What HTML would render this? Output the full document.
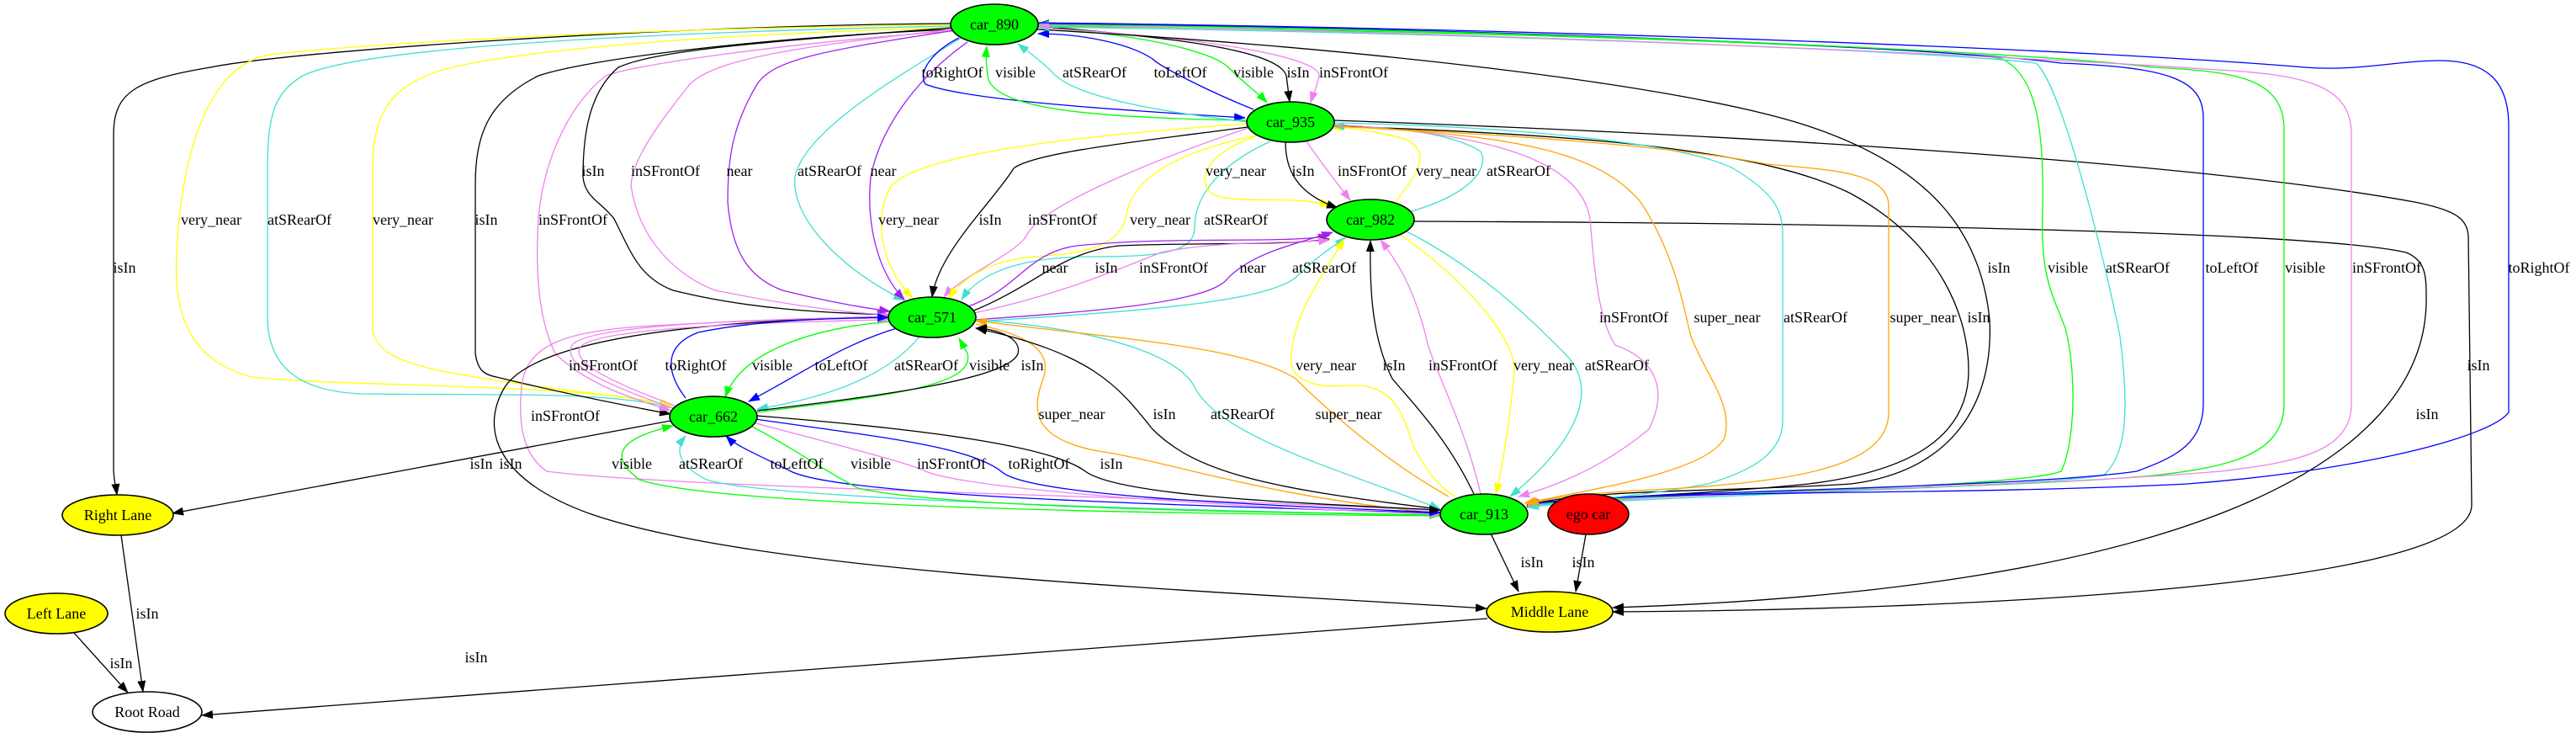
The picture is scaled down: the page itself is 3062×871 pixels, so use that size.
<!DOCTYPE html>
<html><head><meta charset="utf-8"><style>
html,body{margin:0;padding:0;background:#fff;width:3062px;height:871px;overflow:hidden}
svg{display:block}
path{fill:none;stroke-width:1.3}
.k{stroke:#000;marker-end:url(#mk)}
.y{stroke:#ffff00;marker-end:url(#my)}
.c{stroke:#40e0d0;marker-end:url(#mc)}
.v{stroke:#ee82ee;marker-end:url(#mv)}
.p{stroke:#a020f0;marker-end:url(#mp)}
.b{stroke:#0000ff;marker-end:url(#mb)}
.g{stroke:#00ff00;marker-end:url(#mg)}
.o{stroke:#ffa500;marker-end:url(#mo)}
text{font-family:"Liberation Serif",serif;font-size:18px;fill:#000;text-anchor:middle}
ellipse{stroke:#000;stroke-width:1.6}
</style></head><body>
<svg width="3062" height="871" viewBox="0 0 3062 871" xmlns="http://www.w3.org/2000/svg">
<defs>
<marker id="mk" markerUnits="userSpaceOnUse" markerWidth="14" markerHeight="10" refX="13" refY="5" orient="auto"><path d="M0,0 L14,5 L0,10 z" style="fill:#000;stroke:none"/></marker>
<marker id="my" markerUnits="userSpaceOnUse" markerWidth="14" markerHeight="10" refX="13" refY="5" orient="auto"><path d="M0,0 L14,5 L0,10 z" style="fill:#ffff00;stroke:none"/></marker>
<marker id="mc" markerUnits="userSpaceOnUse" markerWidth="14" markerHeight="10" refX="13" refY="5" orient="auto"><path d="M0,0 L14,5 L0,10 z" style="fill:#40e0d0;stroke:none"/></marker>
<marker id="mv" markerUnits="userSpaceOnUse" markerWidth="14" markerHeight="10" refX="13" refY="5" orient="auto"><path d="M0,0 L14,5 L0,10 z" style="fill:#ee82ee;stroke:none"/></marker>
<marker id="mp" markerUnits="userSpaceOnUse" markerWidth="14" markerHeight="10" refX="13" refY="5" orient="auto"><path d="M0,0 L14,5 L0,10 z" style="fill:#a020f0;stroke:none"/></marker>
<marker id="mb" markerUnits="userSpaceOnUse" markerWidth="14" markerHeight="10" refX="13" refY="5" orient="auto"><path d="M0,0 L14,5 L0,10 z" style="fill:#0000ff;stroke:none"/></marker>
<marker id="mg" markerUnits="userSpaceOnUse" markerWidth="14" markerHeight="10" refX="13" refY="5" orient="auto"><path d="M0,0 L14,5 L0,10 z" style="fill:#00ff00;stroke:none"/></marker>
<marker id="mo" markerUnits="userSpaceOnUse" markerWidth="14" markerHeight="10" refX="13" refY="5" orient="auto"><path d="M0,0 L14,5 L0,10 z" style="fill:#ffa500;stroke:none"/></marker>
</defs>

<path class="k" d="M1130,28 C800,30 350,60 250,80 C160,95 135,110 135,160 L135,560 C136,575 138,580 139,588"/>
<path class="y" d="M1130,30 C800,32 450,50 320,65 C240,80 215,200 210,300 C205,380 230,430 300,448 C400,460 700,455 798,482"/>
<path class="c" d="M1130,31 C700,40 420,60 360,90 C325,110 318,140 318,200 L318,380 C320,440 360,465 430,468 C600,470 720,465 797,484"/>
<path class="y" d="M1130,33 C850,40 600,60 520,85 C460,105 443,140 443,200 L443,390 C445,420 480,430 520,440 C650,465 760,470 798,483"/>
<path class="k" d="M1132,35 C900,45 700,70 640,90 C580,120 565,160 565,220 L565,420 C568,440 575,445 590,448 C680,470 760,485 797,492"/>
<path class="v" d="M1132,37 C950,50 760,75 720,90 C670,130 645,200 640,260 C636,320 640,380 660,420 C700,460 760,475 797,488"/>
<path class="v" d="M1712,607 C1400,590 800,580 650,560 C620,540 616,500 620,460 C625,410 670,395 760,388 C900,380 1000,378 1056,378"/>
<path class="k" d="M1056,377 C850,380 640,400 600,460 C570,510 590,570 700,610 C900,680 1400,700 1767,723"/>

<path class="k" d="M1131,33 C900,50 780,60 735,80 C700,110 693,160 693,210 C695,235 715,240 730,260 C750,300 760,330 800,345 C900,370 1000,372 1056,374"/>
<path class="v" d="M1132,35 C950,55 850,70 820,100 C780,150 752,190 750,220 C760,290 810,330 850,345 C950,365 1010,372 1057,374"/>
<path class="p" d="M1135,36 C980,60 920,70 900,100 C870,150 865,190 865,240 C870,300 890,330 930,345 C990,360 1030,366 1058,370"/>
<path class="c" d="M1143,45 C1050,100 955,160 945,210 C940,260 1000,320 1075,357"/>
<path class="p" d="M1150,50 C1080,100 1045,160 1035,210 C1030,260 1040,320 1075,356"/>

<path class="y" d="M1482,147 C1300,160 1100,180 1060,220 C1035,260 1050,320 1085,354"/>
<path class="k" d="M1483,151 C1380,165 1230,180 1205,200 C1180,240 1115,300 1108,353"/>
<path class="v" d="M1490,150 C1400,180 1240,240 1220,280 C1210,300 1140,330 1122,353"/>
<path class="y" d="M1497,160 C1400,180 1350,210 1340,250 C1335,290 1300,300 1230,305 C1170,310 1140,335 1128,355"/>
<path class="c" d="M1510,168 C1440,200 1420,240 1420,270 C1420,300 1380,305 1300,305 C1200,305 1160,330 1143,356"/>

<path class="p" d="M1148,365 C1210,345 1220,300 1280,292 C1400,280 1530,290 1580,280"/>
<path class="k" d="M1155,370 C1230,340 1260,300 1330,292 C1420,288 1530,292 1580,284"/>
<path class="v" d="M1158,372 C1260,350 1330,320 1380,300 C1450,285 1540,290 1580,285"/>
<path class="p" d="M1158,380 C1300,370 1440,360 1460,330 C1490,300 1540,290 1584,276"/>
<path class="c" d="M1160,382 C1350,370 1500,360 1540,330 C1570,300 1590,290 1600,282"/>

<path class="b" d="M1140,45 C1110,60 1090,85 1100,100 C1150,120 1350,132 1480,140"/>
<path class="g" d="M1482,143 C1300,140 1190,130 1175,95 C1172,80 1172,65 1173,55"/>
<path class="c" d="M1485,145 C1350,130 1270,110 1250,85 C1235,70 1220,60 1210,52"/>
<path class="b" d="M1490,130 C1440,110 1380,80 1370,70 C1340,50 1280,40 1234,40"/>
<path class="g" d="M1234,33 C1350,40 1440,60 1460,80 C1480,100 1495,110 1506,122"/>
<path class="k" d="M1233,31 C1400,45 1520,60 1529,90 L1533,121"/>
<path class="v" d="M1233,33 C1450,45 1570,70 1568,90 C1565,105 1560,115 1558,122"/>

<path class="y" d="M1492,162 C1440,180 1420,210 1440,230 C1470,245 1540,230 1582,245"/>
<path class="k" d="M1528,169 C1528,200 1540,230 1590,247"/>
<path class="v" d="M1553,168 C1575,200 1595,225 1605,238"/>
<path class="y" d="M1658,241 C1690,200 1700,180 1670,165 C1630,155 1600,150 1582,152"/>
<path class="c" d="M1675,252 C1750,230 1770,200 1760,180 C1720,155 1640,150 1585,150"/>

<path class="k" d="M1586,143 C2200,165 2650,200 2870,240 C2920,250 2932,260 2934,280 L2938,600 C2938,700 2300,725 1917,727"/>
<path class="k" d="M1681,263 C2200,265 2750,275 2860,300 C2885,310 2884,330 2884,360 C2880,550 2600,700 1917,722"/>

<path class="k" d="M1233,35 C1600,55 2000,100 2150,150 C2300,200 2355,280 2365,380 C2370,480 2320,560 2200,575 C2050,585 1900,580 1815,600"/>
<path class="k" d="M1586,150 C1900,160 2100,180 2200,230 C2310,290 2340,380 2340,440 C2340,520 2270,560 2150,575 C2000,590 1880,590 1815,602"/>
<path class="g" d="M1816,600 C2000,585 2400,580 2450,560 C2465,530 2470,450 2455,390 C2440,350 2425,330 2428,250 C2430,150 2420,90 2380,70 C2300,55 1700,35 1234,31"/>
<path class="c" d="M1816,602 C2000,588 2400,580 2500,565 C2530,540 2530,480 2520,400 C2500,300 2450,100 2420,75 C2300,60 1700,38 1234,32"/>
<path class="b" d="M1816,598 C2000,582 2400,580 2540,560 C2580,545 2619,530 2619,480 L2619,140 C2619,95 2580,80 2450,75 C2300,55 1700,32 1234,28"/>
<path class="g" d="M1816,600 C2000,585 2400,580 2560,565 C2650,555 2715,540 2715,480 L2715,150 C2712,90 2650,85 2560,80 C2400,60 1800,35 1234,29"/>
<path class="v" d="M1816,601 C2000,585 2400,580 2640,560 C2720,550 2795,540 2795,480 L2795,160 C2795,100 2740,88 2620,82 C2450,70 1800,38 1234,30"/>
<path class="b" d="M1233,27 C1900,35 2500,60 2740,80 C2800,85 2850,72 2900,72 C2960,72 2982,100 2982,150 L2982,490 C2960,520 2800,560 2600,575 C2300,590 2000,580 1816,599"/>

<path class="v" d="M1586,148 C1800,160 1880,200 1890,260 C1895,320 1900,380 1920,410 C1975,430 1980,470 1960,510 C1900,560 1840,580 1805,590"/>
<path class="o" d="M1586,150 C1800,160 1900,180 1950,240 C1990,300 2000,360 2010,400 C2030,450 2060,480 2050,520 C2030,560 1900,580 1812,598"/>
<path class="c" d="M1586,146 C1800,150 2000,170 2060,200 C2110,230 2119,250 2119,280 L2119,500 C2119,540 2080,560 2030,575 C1950,590 1870,595 1816,603"/>
<path class="o" d="M1586,150 C1800,160 2000,175 2100,195 C2180,202 2245,205 2245,245 L2245,490 C2245,550 2150,570 2000,580 C1900,585 1840,590 1816,600"/>

<path class="y" d="M1730,590 C1720,585 1700,570 1680,530 C1665,480 1650,455 1600,458 C1560,462 1530,450 1535,420 C1540,370 1570,330 1598,284"/>
<path class="k" d="M1752,587 C1720,520 1680,480 1655,450 C1630,400 1628,340 1629,286"/>
<path class="v" d="M1760,587 C1740,500 1700,430 1695,400 C1680,340 1660,310 1641,285"/>
<path class="y" d="M1660,276 C1740,330 1800,400 1800,440 C1795,500 1785,560 1778,587"/>
<path class="c" d="M1672,275 C1760,320 1820,380 1860,420 C1900,460 1880,520 1795,590"/>

<path class="o" d="M1160,385 C1230,400 1250,420 1240,450 C1225,490 1230,520 1300,535 C1400,550 1500,590 1712,610"/>
<path class="k" d="M1712,605 C1500,580 1420,560 1370,510 C1330,460 1300,420 1160,390"/>
<path class="c" d="M1160,380 C1300,390 1400,420 1420,460 C1450,520 1600,560 1712,605"/>
<path class="o" d="M1722,590 C1650,550 1580,490 1540,450 C1480,410 1300,400 1160,381"/>

<path class="g" d="M1712,613 C1300,610 850,600 760,570 C720,540 740,520 800,506"/>
<path class="c" d="M1712,612 C1300,605 900,590 840,570 C800,550 805,530 815,518"/>
<path class="b" d="M1712,610 C1400,600 1000,590 940,560 C900,540 875,530 863,518"/>
<path class="g" d="M890,505 C940,530 980,560 1020,580 C1100,600 1400,608 1712,612"/>
<path class="v" d="M895,502 C1000,530 1080,550 1100,560 C1150,580 1400,600 1712,611"/>
<path class="b" d="M898,498 C1050,520 1150,530 1190,560 C1220,590 1500,600 1712,609"/>
<path class="k" d="M899,494 C1100,510 1250,530 1290,560 C1330,590 1550,598 1712,606"/>

<path class="v" d="M800,485 C700,450 670,430 680,410 C700,385 900,380 1056,376"/>
<path class="v" d="M802,482 C710,448 680,428 690,412 C710,390 900,383 1056,380"/>
<path class="b" d="M815,473 C790,440 790,410 830,395 C900,380 1000,378 1056,377"/>
<path class="g" d="M1060,382 C960,390 880,420 862,472"/>
<path class="b" d="M1066,390 C1000,410 960,440 890,477"/>
<path class="c" d="M1093,400 C1060,440 1000,470 900,486"/>
<path class="g" d="M900,490 C1050,470 1160,460 1150,420 L1140,402"/>
<path class="k" d="M900,488 C1050,470 1200,450 1210,420 C1215,400 1180,390 1160,390"/>

<path class="k" d="M797,500 L205,610"/>
<path class="k" d="M144,636 L170,822"/>
<path class="k" d="M88,752 L152,823"/>
<path class="k" d="M1768,735 L240,850"/>
<path class="k" d="M1772,634 L1805,703"/>
<path class="k" d="M1885,635 L1873,703"/>

<ellipse cx="1182" cy="29" rx="52" ry="24" fill="#00ff00"/>
<ellipse cx="1534" cy="145" rx="52" ry="24" fill="#00ff00"/>
<ellipse cx="1629" cy="261" rx="52" ry="24" fill="#00ff00"/>
<ellipse cx="1108" cy="377" rx="52" ry="24" fill="#00ff00"/>
<ellipse cx="848" cy="495" rx="52" ry="24" fill="#00ff00"/>
<ellipse cx="1764" cy="611" rx="52" ry="24" fill="#00ff00"/>
<ellipse cx="1888" cy="611" rx="48" ry="24" fill="#ff0000"/>
<ellipse cx="1842" cy="727" rx="75" ry="24" fill="#ffff00"/>
<ellipse cx="140" cy="612" rx="66" ry="24" fill="#ffff00"/>
<ellipse cx="67" cy="729" rx="61" ry="24" fill="#ffff00"/>
<ellipse cx="175" cy="846" rx="65" ry="24" fill="#fff"/>
<text x="1182" y="35">car_890</text>
<text x="1534" y="151">car_935</text>
<text x="1629" y="267">car_982</text>
<text x="1108" y="383">car_571</text>
<text x="848" y="501">car_662</text>
<text x="1764" y="617">car_913</text>
<text x="1888" y="617">ego car</text>
<text x="1842" y="733">Middle Lane</text>
<text x="140" y="618">Right Lane</text>
<text x="67" y="735">Left Lane</text>
<text x="175" y="852">Root Road</text>

<text x="1132" y="92">toRightOf</text><text x="1207" y="92">visible</text><text x="1301" y="92">atSRearOf</text><text x="1403" y="92">toLeftOf</text><text x="1490" y="92">visible</text><text x="1543" y="92">isIn</text><text x="1609" y="92">inSFrontOf</text>
<text x="705" y="209">isIn</text><text x="791" y="209">inSFrontOf</text><text x="879" y="209">near</text><text x="986" y="209">atSRearOf</text><text x="1050" y="209">near</text>
<text x="1469" y="209">very_near</text><text x="1549" y="209">isIn</text><text x="1631" y="209">inSFrontOf</text><text x="1719" y="209">very_near</text><text x="1805" y="209">atSRearOf</text>
<text x="251" y="267">very_near</text><text x="356" y="267">atSRearOf</text><text x="479" y="267">very_near</text><text x="578" y="267">isIn</text><text x="681" y="267">inSFrontOf</text>
<text x="1080" y="267">very_near</text><text x="1177" y="267">isIn</text><text x="1263" y="267">inSFrontOf</text><text x="1379" y="267">very_near</text><text x="1469" y="267">atSRearOf</text>
<text x="148" y="324">isIn</text>
<text x="1254" y="324">near</text><text x="1315" y="324">isIn</text><text x="1395" y="324">inSFrontOf</text><text x="1489" y="324">near</text><text x="1574" y="324">atSRearOf</text>
<text x="2376" y="324">isIn</text><text x="2458" y="324">visible</text><text x="2541" y="324">atSRearOf</text><text x="2653" y="324">toLeftOf</text><text x="2740" y="324">visible</text><text x="2837" y="324">inSFrontOf</text><text x="3018" y="324">toRightOf</text>
<text x="1942" y="383">inSFrontOf</text><text x="2053" y="383">super_near</text><text x="2158" y="383">atSRearOf</text><text x="2286" y="383">super_near</text><text x="2352" y="383">isIn</text>
<text x="717" y="440">inSFrontOf</text><text x="827" y="440">toRightOf</text><text x="918" y="440">visible</text><text x="1000" y="440">toLeftOf</text><text x="1101" y="440">atSRearOf</text><text x="1176" y="440">visible</text><text x="1227" y="440">isIn</text>
<text x="1576" y="440">very_near</text><text x="1657" y="440">isIn</text><text x="1739" y="440">inSFrontOf</text><text x="1835" y="440">very_near</text><text x="1922" y="440">atSRearOf</text><text x="2946" y="440">isIn</text>
<text x="672" y="500">inSFrontOf</text>
<text x="1274" y="498">super_near</text><text x="1384" y="498">isIn</text><text x="1477" y="498">atSRearOf</text><text x="1603" y="498">super_near</text><text x="2885" y="498">isIn</text>
<text x="572" y="557">isIn</text><text x="607" y="557">isIn</text><text x="751" y="557">visible</text><text x="845" y="557">atSRearOf</text><text x="947" y="557">toLeftOf</text><text x="1035" y="557">visible</text><text x="1131" y="557">inSFrontOf</text><text x="1235" y="557">toRightOf</text><text x="1321" y="557">isIn</text>
<text x="1821" y="674">isIn</text><text x="1882" y="674">isIn</text>
<text x="175" y="735">isIn</text>
<text x="144" y="794">isIn</text>
<text x="566" y="787">isIn</text>
</svg>
</body></html>
